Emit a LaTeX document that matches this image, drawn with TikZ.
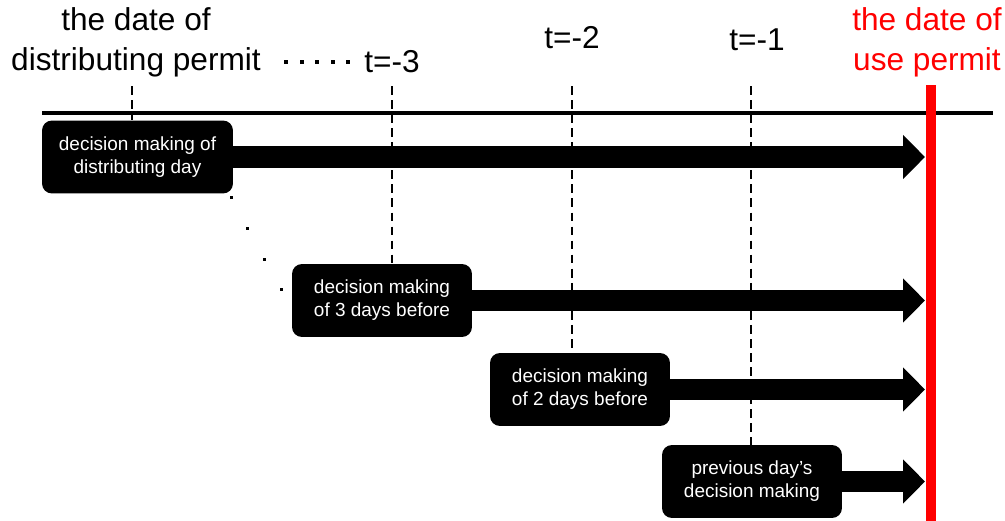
\documentclass[tikz,border=0pt]{standalone}
\usepackage{fontspec}
\setmainfont{Liberation Sans}
\usetikzlibrary{arrows.meta,positioning}

\begin{document}
\begin{tikzpicture}[x=0.02cm,y=-0.02cm]
      \tikzset{
        every node/.style={inner sep=0pt},
        datelabel/.style={align=center,font=\fontsize{18}{22.7}\selectfont},
        decision/.style={rounded corners=0.2cm,fill=black,text=white,align=center,
          minimum width=3.6cm,minimum height=1.46cm,font=\fontsize{10.8}{13}\selectfont},
        dashtick/.style={dashed,dash pattern=on 5pt off 3pt,line width=1.1pt},
        bigarrow/.style={line width=12pt,-{Triangle[length=0.44cm,width=0.86cm]}}
      }
      \useasboundingbox (0,0) rectangle (1005,521);

      \node[datelabel] (distdate) at (136,42) {the date of\\distributing permit};
      \node[datelabel,text=red] (usedate) at (927,42) {the date of\\use permit};
      \node[datelabel] (tm3) at (392,62) {t=-3};
      \node[datelabel] (tm2) at (572,38) {t=-2};
      \node[datelabel] (tm1) at (757,40) {t=-1};

      \node[decision,minimum width=3.82cm] (dday) at (137.5,157) {decision making of\\distributing day};
      \node[decision] (d3day) at (382,300.5) {decision making\\of 3 days before};
      \node[decision] (d2day) at (580,389.5) {decision making\\of 2 days before};
      \node[decision] (d1day) at (752,481.5) {previous day’s\\decision making};

      \coordinate (tl0) at (42,113);
      \coordinate (tl1) at (993,113);
      \coordinate (use0) at (931,85);
      \coordinate (use1) at (931,521);
      \coordinate (tip) at (925,0);
      \coordinate (d0) at (132,86);
      \coordinate (d3) at (392,86);
      \coordinate (d2) at (572,86);
      \coordinate (d1) at (751,86);

      \draw[line width=2.3pt] (tl0) -- (tl1);
      \draw[dashtick] (d0) -- (d0 |- dday.north);
      \draw[dashtick] (d3) -- (d3 |- d3day.north);
      \draw[dashtick] (d2) -- (d2 |- d2day.north);
      \draw[dashtick] (d1) -- (d1 |- d1day.north);

      \draw[bigarrow] (dday.east) -- (dday.east -| tip);
      \draw[bigarrow] (d3day.east) -- (d3day.east -| tip);
      \draw[bigarrow] (d2day.east) -- (d2day.east -| tip);
      \draw[bigarrow] (d1day.east) -- (d1day.east -| tip);

      \draw[red,line width=5.7pt] (use0) -- (use1);

      \foreach \x in {286,302,317,333,348}
        \fill (\x-2,60) rectangle (\x+2,64);
      \foreach \x/\y in {231/197,247/228,264/259,281/289}
        \fill (\x-1.5,\y-1.5) rectangle (\x+1.5,\y+1.5);
    \end{tikzpicture}
\end{document}
